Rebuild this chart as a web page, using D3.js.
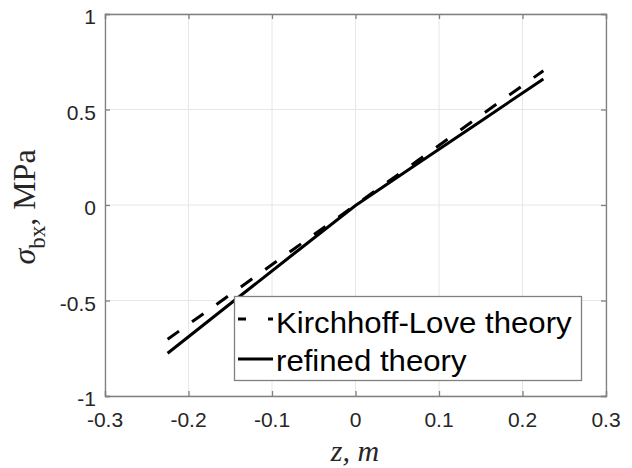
<!DOCTYPE html>
<html>
<head>
<meta charset="utf-8">
<script src="https://cdn.jsdelivr.net/npm/d3@7"></script>
<style>
  html, body { margin: 0; padding: 0; background: #fff; }
  svg { display: block; }
</style>
</head>
<body>
<svg id="chart" width="632" height="468"></svg>
<script>
// Bending stress through the thickness coordinate z
const zValues = [-0.225, -0.15, -0.075, 0, 0.075, 0.15, 0.225];
const kirchhoffLove = [-0.703, -0.469, -0.234, 0, 0.234, 0.469, 0.703];
const refined = [-0.776, -0.517, -0.259, -0.003, 0.218, 0.439, 0.66];

const xTicks = [-0.3, -0.2, -0.1, 0, 0.1, 0.2, 0.3];
const yTicks = [-1, -0.5, 0, 0.5, 1];
const xTickLabels = ["-0.3", "-0.2", "-0.1", "0", "0.1", "0.2", "0.3"];
const yTickLabels = ["-1", "-0.5", "0", "0.5", "1"];

const seriesNames = ["Kirchhoff-Love theory", "refined theory"];

const svg = d3.select("#chart");
const plot = { left: 105, right: 606, top: 14, bottom: 396 };

const x = d3.scaleLinear().domain([-0.3, 0.3]).range([plot.left, plot.right]);
const y = d3.scaleLinear().domain([-1, 1]).range([plot.bottom, plot.top]);

const axisColor = "#808080";
const textColor = "#262626";

// grid
const grid = svg.append("g");
grid.selectAll("line.gx").data(xTicks).join("line")
  .attr("class", "gx")
  .attr("x1", d => x(d)).attr("x2", d => x(d))
  .attr("y1", plot.top).attr("y2", plot.bottom)
  .attr("stroke", "#e6e6e6").attr("stroke-width", 1);
grid.selectAll("line.gy").data(yTicks).join("line")
  .attr("class", "gy")
  .attr("x1", plot.left).attr("x2", plot.right)
  .attr("y1", d => y(d)).attr("y2", d => y(d))
  .attr("stroke", "#e6e6e6").attr("stroke-width", 1);

// axes with inward ticks on all four sides
const tickLen = 5;
const xAxisB = d3.axisBottom(x).tickValues(xTicks).tickSize(-tickLen).tickFormat("");
const xAxisT = d3.axisTop(x).tickValues(xTicks).tickSize(-tickLen).tickFormat("");
const yAxisL = d3.axisLeft(y).tickValues(yTicks).tickSize(-tickLen).tickFormat("");
const yAxisR = d3.axisRight(y).tickValues(yTicks).tickSize(-tickLen).tickFormat("");

function styleAxis(g) {
  g.selectAll("path").attr("stroke", axisColor).attr("stroke-width", 1.3);
  g.selectAll("line").attr("stroke", axisColor).attr("stroke-width", 1.3);
}
svg.append("g").attr("transform", `translate(0,${plot.bottom})`).call(xAxisB).call(styleAxis);
svg.append("g").attr("transform", `translate(0,${plot.top})`).call(xAxisT).call(styleAxis);
svg.append("g").attr("transform", `translate(${plot.left},0)`).call(yAxisL).call(styleAxis);
svg.append("g").attr("transform", `translate(${plot.right},0)`).call(yAxisR).call(styleAxis);

// tick labels
svg.append("g").selectAll("text").data(xTicks).join("text")
  .attr("x", d => x(d)).attr("y", 427)
  .attr("text-anchor", "middle")
  .attr("font-family", "Liberation Sans, Arial, sans-serif")
  .attr("font-size", 21).attr("fill", textColor)
  .text((d, i) => xTickLabels[i]);
svg.append("g").selectAll("text").data(yTicks).join("text")
  .attr("x", 96).attr("y", d => y(d) + 10)
  .attr("text-anchor", "end")
  .attr("font-family", "Liberation Sans, Arial, sans-serif")
  .attr("font-size", 21).attr("fill", textColor)
  .text((d, i) => yTickLabels[i]);

// axis titles
svg.append("text")
  .attr("x", 355).attr("y", 461)
  .attr("text-anchor", "middle")
  .attr("font-family", "Liberation Serif, Times New Roman, serif")
  .attr("font-style", "italic")
  .attr("font-size", 30).attr("fill", textColor)
  .text("z, m");

const yTitle = svg.append("text")
  .attr("transform", "translate(35,207) rotate(-90)")
  .attr("text-anchor", "middle")
  .attr("font-family", "Liberation Serif, Times New Roman, serif")
  .attr("font-size", 32).attr("fill", textColor);
yTitle.append("tspan").attr("font-style", "italic").text("σ");
yTitle.append("tspan").attr("font-size", 23).attr("dy", 10).text("bx");
yTitle.append("tspan").attr("dy", -10).text(", MPa");

// series
const line = d3.line().x(d => x(d[0])).y(d => y(d[1]));
const klData = zValues.map((z, i) => [z, kirchhoffLove[i]]);
const refData = zValues.map((z, i) => [z, refined[i]]);

svg.append("path").datum(refData)
  .attr("d", line).attr("fill", "none")
  .attr("stroke", "#000").attr("stroke-width", 3);
svg.append("path").datum(klData)
  .attr("d", line).attr("fill", "none")
  .attr("stroke", "#000").attr("stroke-width", 3)
  .attr("stroke-dasharray", "14,16");

// legend
const lg = svg.append("g");
lg.append("rect")
  .attr("x", 234.5).attr("y", 296.5).attr("width", 347).attr("height", 84)
  .attr("fill", "#fff").attr("stroke", axisColor).attr("stroke-width", 1.3);
lg.append("line")
  .attr("x1", 238).attr("x2", 273).attr("y1", 319).attr("y2", 319)
  .attr("stroke", "#000").attr("stroke-width", 3)
  .attr("stroke-dasharray", "8,22,5");
lg.append("line")
  .attr("x1", 238).attr("x2", 273).attr("y1", 359).attr("y2", 359)
  .attr("stroke", "#000").attr("stroke-width", 3);
lg.selectAll("text").data(seriesNames).join("text")
  .attr("transform", (d, i) => `translate(276,${333 + i * 37.5}) scale(1.075,1)`)
  .attr("font-family", "Liberation Sans, Arial, sans-serif")
  .attr("font-size", 29).attr("fill", "#000")
  .text(d => d);
</script>
</body>
</html>
